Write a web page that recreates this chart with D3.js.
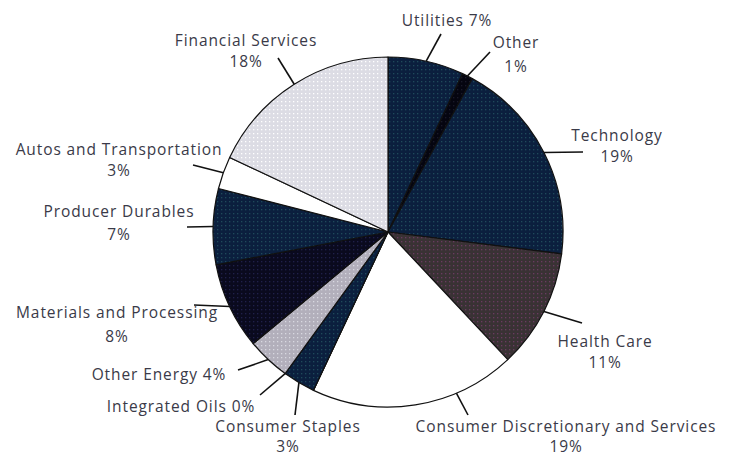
<!DOCTYPE html>
<html>
<head>
<meta charset="utf-8">
<script src="https://cdn.jsdelivr.net/npm/d3@7"></script>
<style>
  body { margin: 0; background: white; }
  text { font-family: "Open Sans", sans-serif; font-size: 15.5px; letter-spacing: 0.9px; fill: #3a3a48; }
</style>
</head>
<body>
<div id="chart"></div>
<script>
// sectors, clockwise from 12 o'clock
var sectors = ["Utilities", "Other", "Technology", "Health Care",
    "Consumer Discretionary and Services", "Integrated Oils", "Consumer Staples",
    "Other Energy", "Materials and Processing", "Producer Durables",
    "Autos and Transportation", "Financial Services"];
var weights = [7, 1, 19, 11, 19, 0, 3, 4, 8, 7, 3, 18];
var labelLines = [
    ["Utilities 7%"], ["Other", "1%"], ["Technology", "19%"], ["Health Care", "11%"],
    ["Consumer Discretionary and Services", "19%"], ["Integrated Oils 0%"],
    ["Consumer Staples", "3%"], ["Other Energy 4%"], ["Materials and Processing", "8%"],
    ["Producer Durables", "7%"], ["Autos and Transportation", "3%"],
    ["Financial Services", "18%"]
];

var width = 732, height = 459;
var cx = 388, cy = 232, radius = 175;

// fill for each sector: [base colour, dot colour]
var fills = [
    ["#0b1f3e", "#1f4a5a"], ["#050510", "#1a1a2a"], ["#0b1f3e", "#1f4a5a"],
    ["#393234", "#6a3a60"], ["#ffffff", null], ["#ffffff", null],
    ["#0b1f3e", "#1f4a5a"], ["#b2afbb", "#d8d8e0"], ["#0a0a1e", "#20204a"],
    ["#0b1f3e", "#1f4a5a"], ["#ffffff", null], ["#dcdce4", "#ffffff"]
];

// label centre (first line), gap to second line, leader end, optional leader angle (deg)
var labelPos = [
    {x: 447, y: 21, lx: 441, ly: 34},
    {x: 516, y: 43, gap: 24, lx: 490, ly: 52},
    {x: 617, y: 136, lx: 583, ly: 152},
    {x: 605, y: 342, lx: 582, ly: 323},
    {x: 566, y: 427, gap: 20, lx: 468, ly: 415, a: 157},
    {x: 181, y: 407, lx: 260, ly: 395, a: 216},
    {x: 288, y: 427, gap: 20, lx: 295, ly: 415},
    {x: 159, y: 375, lx: 238, ly: 370},
    {x: 117, y: 313, gap: 24, lx: 194, ly: 305},
    {x: 119, y: 212, gap: 23, lx: 187, ly: 227},
    {x: 119, y: 150, lx: 193, ly: 165},
    {x: 246, y: 41, lx: 278, ly: 58}
];

var data = sectors.map(function(s, i) {
    return {name: s, value: weights[i], i: i};
});

var svg = d3.select("#chart").append("svg")
    .attr("width", width)
    .attr("height", height)
    .style("background", "white");

var defs = svg.append("defs");
fills.forEach(function(f, i) {
    if (!f[1]) return;
    var p = defs.append("pattern")
        .attr("id", "pat" + i)
        .attr("patternUnits", "userSpaceOnUse")
        .attr("width", 4).attr("height", 4);
    p.append("rect").attr("width", 4).attr("height", 4).attr("fill", f[0]);
    p.append("rect").attr("x", 1).attr("y", 1).attr("width", 1.3).attr("height", 1.3)
        .attr("fill", f[1]);
});

var pie = d3.pie().sort(null).value(function(d) { return d.value; });
var arc = d3.arc().innerRadius(0).outerRadius(radius);
var arcs = pie(data);

var g = svg.append("g").attr("transform", "translate(" + cx + "," + cy + ")");

g.selectAll("path.slice")
    .data(arcs)
    .enter()
    .append("path")
    .attr("class", "slice")
    .attr("d", arc)
    .attr("fill", function(d) { return fills[d.data.i][1] ? "url(#pat" + d.data.i + ")" : fills[d.data.i][0]; })
    .attr("stroke", "#111")
    .attr("stroke-width", 1.2)
    .attr("stroke-linejoin", "round");

// leader lines
arcs.forEach(function(d) {
    var lp = labelPos[d.data.i];
    var ang = lp.a != null ? lp.a * Math.PI / 180 : (d.startAngle + d.endAngle) / 2;
    var x0 = cx + radius * Math.sin(ang);
    var y0 = cy - radius * Math.cos(ang);
    svg.append("line")
        .attr("x1", x0).attr("y1", y0)
        .attr("x2", lp.lx).attr("y2", lp.ly)
        .attr("stroke", "#111")
        .attr("stroke-width", 1.6);
});

// labels
labelLines.forEach(function(lines, i) {
    var lp = labelPos[i];
    var t = svg.append("text")
        .attr("text-anchor", "middle")
        .attr("x", lp.x)
        .attr("y", lp.y);
    lines.forEach(function(line, k) {
        t.append("tspan")
            .attr("x", lp.x)
            .attr("dy", k == 0 ? "0.35em" : (lp.gap || 21) + "px")
            .text(line);
    });
});
</script>
</body>
</html>
